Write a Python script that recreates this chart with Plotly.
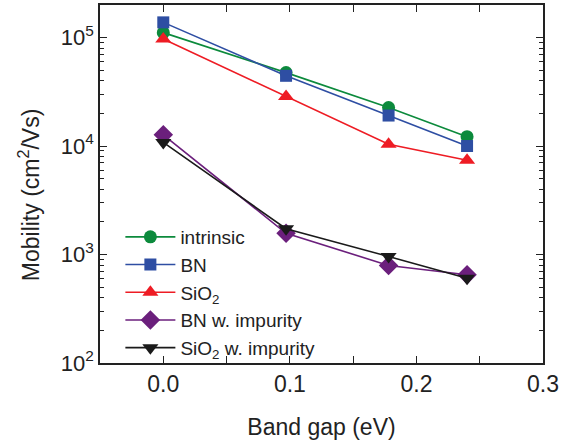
import plotly.graph_objects as go

band_gap = [0.0, 0.097, 0.178, 0.24]
intrinsic = [1.11e5, 4.75e4, 2.26e4, 1.22e4]
bn = [1.38e5, 4.44e4, 1.91e4, 1.0e4]
sio2 = [9.7e4, 2.86e4, 1.04e4, 7.4e3]
bn_imp = [1.27e4, 1.57e3, 793, 650]
sio2_imp = [1.08e4, 1.73e3, 960, 605]

series = [
    ("intrinsic", intrinsic, "#0c8a3c", "circle", 13),
    ("BN", bn, "#2e4ea3", "square", 12),
    ("SiO<sub>2</sub>", sio2, "#ee1c24", "triangle-up", 14),
    ("BN w. impurity", bn_imp, "#6b1f7c", "diamond", 15),
    ("SiO<sub>2</sub> w. impurity", sio2_imp, "#1a1a1a", "triangle-down", 14),
]

fig = go.Figure()
for name, vals, col, sym, sz in series:
    fig.add_trace(go.Scatter(
        x=band_gap, y=vals, name=name, mode="lines+markers",
        line=dict(color=col, width=1.6),
        marker=dict(symbol=sym, size=sz, color=col, line=dict(width=0)),
    ))

font = "Liberation Sans, Arial, sans-serif"
axis_common = dict(
    showline=True, linecolor="#222", linewidth=1.5, mirror="ticks",
    ticks="inside", ticklen=7, tickwidth=1.3, tickcolor="#222",
    showgrid=False, zeroline=False, automargin=False,
)

fig.update_xaxes(
    range=[-0.05, 0.3], dtick=0.1, tick0=0, tickformat=".1f",
    tickfont=dict(family=font, size=23, color="#222"),
    minor=dict(dtick=0.05, ticks="inside", ticklen=7, tickwidth=1.3, tickcolor="#222"),
    title=dict(text="Band gap (eV)", font=dict(family=font, size=23, color="#222"), standoff=23),
    **axis_common,
)
fig.update_yaxes(
    type="log", range=[2, 5.3],
    tickvals=[100, 1000, 10000, 100000],
    ticktext=["10<sup>2</sup>", "10<sup>3</sup>", "10<sup>4</sup>", "10<sup>5</sup>"],
    tickfont=dict(family=font, size=22, color="#222"),
    minor=dict(ticks="inside", ticklen=4, tickwidth=1, tickcolor="#222", dtick="D1"),
    **axis_common,
)

fig.add_annotation(
    text="Mobility (cm<sup>2</sup>/Vs)", textangle=-90,
    xref="paper", yref="paper", x=-0.16, y=0.469,
    xanchor="center", yanchor="middle", showarrow=False,
    font=dict(family=font, size=23, color="#222"),
)

fig.update_layout(
    width=570, height=442,
    margin=dict(l=100, r=27, t=5, b=79),
    plot_bgcolor="white", paper_bgcolor="white",
    legend=dict(
        x=0.046, y=0.405, xanchor="left", yanchor="top",
        bgcolor="rgba(0,0,0,0)", font=dict(family=font, size=19, color="#222"),
        tracegroupgap=0, itemwidth=50,
    ),
)

fig.write_html("out.html")
